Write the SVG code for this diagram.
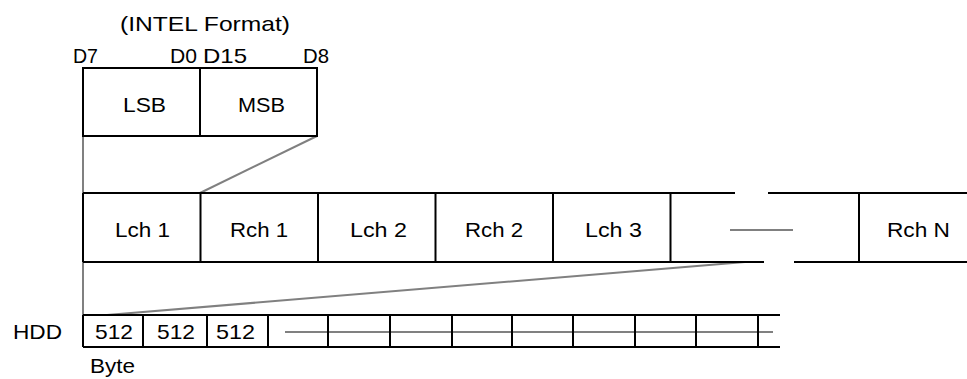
<svg xmlns="http://www.w3.org/2000/svg" width="967" height="379" viewBox="0 0 967 379">
  <style>
    text { font-family: "Liberation Sans", Arial, sans-serif; font-size: 21px; fill: #000; }
    .frame { fill: none; stroke: #000; stroke-width: 2; }
    .guide { fill: none; stroke: #808080; stroke-width: 2; }
  </style>
  <rect width="967" height="379" fill="#fff"/>

  <!-- guide lines tying the word, the sample stream and the disk sectors together -->
  <g id="connectors">
    <line class="guide" x1="83" y1="136" x2="83" y2="315"/>
    <line class="guide" x1="317" y1="136" x2="200" y2="193"/>
    <line class="guide" x1="745" y1="262" x2="107" y2="315"/>
    <line class="guide" x1="730" y1="230" x2="793" y2="230"/>
    <line class="guide" x1="285" y1="332" x2="773" y2="332"/>
  </g>

  <!-- 16-bit sample word, little-endian -->
  <g id="word">
    <text x="120" y="31" textLength="170" lengthAdjust="spacingAndGlyphs">(INTEL Format)</text>
    <text x="73" y="63" textLength="25" lengthAdjust="spacingAndGlyphs">D7</text>
    <text x="170" y="63" textLength="27" lengthAdjust="spacingAndGlyphs">D0</text>
    <text x="203" y="63" textLength="44" lengthAdjust="spacingAndGlyphs">D15</text>
    <text x="303" y="63" textLength="26" lengthAdjust="spacingAndGlyphs">D8</text>
    <rect class="frame" x="83" y="68" width="234" height="68"/>
    <line class="frame" x1="200" y1="68" x2="200" y2="136"/>
    <text x="123" y="112" textLength="43" lengthAdjust="spacingAndGlyphs">LSB</text>
    <text x="238" y="112" textLength="47" lengthAdjust="spacingAndGlyphs">MSB</text>
  </g>

  <!-- interleaved channel stream -->
  <g id="stream">
    <path class="frame" d="M83 193H735M768 193H967M83 262H764M794 262H967M83 193V262M200.5 193V262M318 193V262M435.5 193V262M553 193V262M670.5 193V262M859 193V262"/>
    <text x="115" y="237" textLength="55" lengthAdjust="spacingAndGlyphs">Lch 1</text>
    <text x="230" y="237" textLength="58" lengthAdjust="spacingAndGlyphs">Rch 1</text>
    <text x="350" y="237" textLength="57" lengthAdjust="spacingAndGlyphs">Lch 2</text>
    <text x="465" y="237" textLength="58" lengthAdjust="spacingAndGlyphs">Rch 2</text>
    <text x="585" y="237" textLength="57" lengthAdjust="spacingAndGlyphs">Lch 3</text>
    <text x="887" y="237" textLength="63" lengthAdjust="spacingAndGlyphs">Rch N</text>
  </g>

  <!-- disk sectors -->
  <g id="hdd">
    <text x="13" y="339" textLength="49" lengthAdjust="spacingAndGlyphs">HDD</text>
    <path class="frame" d="M83 315H780M83 347H780M83 315V347M143 315V347M207 315V347M268 315V347M328 315V347M390 315V347M452 315V347M512 315V347M573 315V347M635 315V347M696 315V347M758 315V347"/>
    <text x="95" y="339" textLength="38" lengthAdjust="spacingAndGlyphs">512</text>
    <text x="157" y="339" textLength="38" lengthAdjust="spacingAndGlyphs">512</text>
    <text x="216" y="339" textLength="39" lengthAdjust="spacingAndGlyphs">512</text>
    <text x="90" y="373" textLength="45" lengthAdjust="spacingAndGlyphs">Byte</text>
  </g>
</svg>
